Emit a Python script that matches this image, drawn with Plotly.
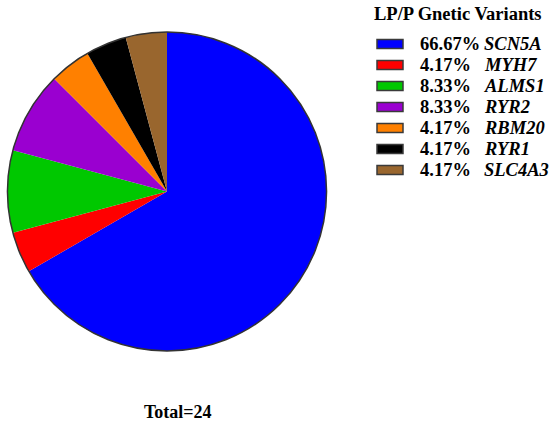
import plotly.graph_objects as go

# LP/P variant counts per gene (total 24)
genes = ['SCN5A', 'MYH7', 'ALMS1', 'RYR2', 'RBM20', 'RYR1', 'SLC4A3']
counts = [16, 1, 2, 2, 1, 1, 1]
colors = ['#0000FF', '#FF0000', '#00C800', '#9A00D0', '#FF8000', '#000000', '#99662E']

W, H = 550, 427
total = sum(counts)
serif = 'Liberation Serif, Times New Roman, serif'


def px(x):
    return x / W


def py_(y):
    return 1 - y / H


dom_x = [px(7), px(327)]
dom_y = [py_(351), py_(32)]

fig = go.Figure()
fig.add_trace(go.Pie(labels=genes, values=counts, sort=False,
                     direction='clockwise', rotation=0,
                     marker=dict(colors=colors, line=dict(width=0)),
                     textinfo='none', hoverinfo='label+percent',
                     showlegend=False,
                     domain=dict(x=dom_x, y=dom_y)))
# outer ring only
fig.add_trace(go.Pie(values=[1], labels=['all'], sort=False,
                     marker=dict(colors=['rgba(0,0,0,0)'],
                                 line=dict(color='#333333', width=1.5)),
                     textinfo='none', hoverinfo='skip', showlegend=False,
                     domain=dict(x=dom_x, y=dom_y)))

shapes = []
annots = []
annots.append(dict(text='<b>LP/P Gnetic Variants</b>', x=px(458), y=py_(14),
                   xref='paper', yref='paper', xanchor='center', yanchor='middle',
                   showarrow=False, font=dict(family=serif, size=18.5, color='black')))
for i, (g, c, col) in enumerate(zip(genes, counts, colors)):
    cy = 44 + 21 * i
    shapes.append(dict(type='rect', xref='paper', yref='paper',
                       x0=px(377), x1=px(403), y0=py_(cy - 4.5), y1=py_(cy + 4.5),
                       fillcolor=col, line=dict(color='#3a3a3a', width=1.5)))
    annots.append(dict(text='<b>%.2f%%</b>' % (100 * c / total), x=px(418), y=py_(cy),
                       xref='paper', yref='paper', xanchor='left', yanchor='middle',
                       showarrow=False, font=dict(family=serif, size=18.5, color='black')))
    annots.append(dict(text='<b><i>%s</i></b>' % g, x=px(482), y=py_(cy),
                       xref='paper', yref='paper', xanchor='left', yanchor='middle',
                       showarrow=False, font=dict(family=serif, size=18.5, color='black')))
annots.append(dict(text='<b>Total=%d</b>' % total, x=px(178), y=py_(412),
                   xref='paper', yref='paper', xanchor='center', yanchor='middle',
                   showarrow=False, font=dict(family=serif, size=18, color='black')))

fig.update_layout(width=W, height=H, margin=dict(l=0, r=0, t=0, b=0),
                  paper_bgcolor='white', plot_bgcolor='white',
                  shapes=shapes, annotations=annots)
fig.write_html("out.html", config={'displayModeBar': False},
               post_script="document.body.style.margin='0';")
